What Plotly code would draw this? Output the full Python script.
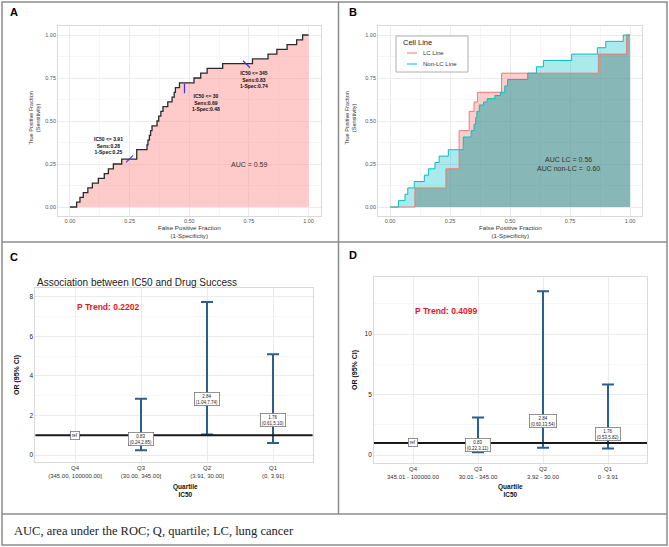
import numpy as np
import plotly.graph_objects as go

W, H = 669, 547
FONT = "Liberation Sans, Arial, sans-serif"

# ---- panel A: ROC of IC50 for all cell lines
roc_fpr = [0, 0.028, 0.042, 0.056, 0.075, 0.094, 0.119, 0.144, 0.161, 0.182,
           0.217, 0.280, 0.323, 0.327, 0.333, 0.338, 0.344, 0.365, 0.372, 0.381,
           0.390, 0.410, 0.428, 0.437, 0.442, 0.459, 0.520, 0.548, 0.575, 0.640,
           0.765, 0.830, 0.867, 0.910, 0.950, 0.975, 1.0]
roc_tpr = [0, 0.028, 0.056, 0.083, 0.111, 0.139, 0.167, 0.194, 0.222, 0.250,
           0.278, 0.333, 0.361, 0.389, 0.417, 0.444, 0.472, 0.500, 0.528, 0.556,
           0.583, 0.611, 0.639, 0.667, 0.694, 0.722, 0.750, 0.778, 0.806, 0.833,
           0.861, 0.889, 0.917, 0.944, 0.972, 1.0, 1.0]
auc_all = 0.59
cut_ic50 = ["3.91", "30", "345"]
cut_sens = [0.28, 0.69, 0.83]
cut_spec1 = [0.25, 0.48, 0.74]

# ---- panel B: ROC by cell line
lc_fpr = [0, 0.104, 0.233, 0.288, 0.330, 0.350, 0.365, 0.465, 0.868, 0.986, 1.0]
lc_tpr = [0, 0.111, 0.222, 0.444, 0.556, 0.611, 0.667, 0.778, 0.889, 1.0, 1.0]
nlc_fpr = [0, 0.035, 0.0625, 0.074, 0.101, 0.143, 0.160, 0.1875, 0.205, 0.243,
           0.305, 0.338, 0.350, 0.357, 0.362, 0.372, 0.390, 0.405, 0.437, 0.460,
           0.478, 0.490, 0.574, 0.610, 0.639, 0.757, 0.864, 0.899, 0.972, 1.0]
nlc_tpr = [0, 0.037, 0.074, 0.111, 0.148, 0.185, 0.222, 0.259, 0.296, 0.333,
           0.407, 0.444, 0.481, 0.519, 0.556, 0.593, 0.611, 0.630, 0.648, 0.667,
           0.704, 0.741, 0.778, 0.815, 0.852, 0.889, 0.926, 0.963, 1.0, 1.0]
auc_lc = 0.56
auc_nlc = 0.60
cell_lines = ["LC Line", "Non-LC Line"]
line_cols = ["#F8766D", "#00BFC4"]

# ---- panels C and D: odds ratios by IC50 quartile
quartiles = ["Q4", "Q3", "Q2", "Q1"]
ranges_c = ["(345.00, 100000.00]", "(30.00, 345.00]", "(3.91, 30.00]", "(0, 3.91]"]
or_c = [1.00, 0.83, 2.84, 1.76]
lo_c = [1.00, 0.24, 1.04, 0.61]
hi_c = [1.00, 2.85, 7.74, 5.10]
p_trend_c = "0.2202"
ranges_d = ["345.01 - 100000.00", "30.01 - 345.00", "3.92 - 30.00", "0 - 3.91"]
or_d = [1.00, 0.83, 2.84, 1.76]
lo_d = [1.00, 0.22, 0.60, 0.53]
hi_d = [1.00, 3.11, 13.54, 5.82]
p_trend_d = "0.4099"
ref_or = 1

caption = "AUC, area under the ROC; Q, quartile; LC, lung cancer"


def fx(p):
    return p / W


def fy(p):
    return 1 - p / H


def step_eval(xs, ys, grid):
    idx = np.searchsorted(xs, grid, side="right") - 1
    return np.asarray(ys)[idx]


fig = go.Figure()

# A
fig.add_trace(go.Scatter(x=roc_fpr, y=roc_tpr, mode="lines", line_shape="hv",
                         line=dict(color="#2b2b2b", width=1.3), fill="tozeroy",
                         fillcolor="rgba(255,150,150,0.5)", showlegend=False,
                         xaxis="x", yaxis="y"))
fig.add_trace(go.Scatter(x=cut_spec1, y=cut_sens, mode="markers",
                         marker=dict(symbol=["line-ne", "line-ns", "line-nw"], size=7,
                                     line=dict(color="#3a3ad0", width=1.2)),
                         showlegend=False, xaxis="x", yaxis="y"))

# B
grid = np.union1d(lc_fpr, nlc_fpr)
overlap = np.minimum(step_eval(lc_fpr, lc_tpr, grid), step_eval(nlc_fpr, nlc_tpr, grid))
fig.add_trace(go.Scatter(x=lc_fpr, y=lc_tpr, mode="none", line_shape="hv", fill="tozeroy",
                         fillcolor="rgba(248,118,109,0.35)", showlegend=False,
                         xaxis="x2", yaxis="y2"))
fig.add_trace(go.Scatter(x=nlc_fpr, y=nlc_tpr, mode="none", line_shape="hv", fill="tozeroy",
                         fillcolor="rgba(0,191,196,0.33)", showlegend=False,
                         xaxis="x2", yaxis="y2"))
fig.add_trace(go.Scatter(x=grid, y=overlap, mode="none", line_shape="hv", fill="tozeroy",
                         fillcolor="rgba(20,120,120,0.22)", showlegend=False,
                         xaxis="x2", yaxis="y2"))
for xs, ys, col in [(lc_fpr, lc_tpr, line_cols[0]), (nlc_fpr, nlc_tpr, line_cols[1])]:
    fig.add_trace(go.Scatter(x=xs, y=ys, mode="lines", line_shape="hv", showlegend=False,
                             line=dict(color=col, width=1), xaxis="x2", yaxis="y2"))

# C and D
bar_col = "#2c5f8e"
for n, rng, ors, los, his in [(3, ranges_c, or_c, lo_c, hi_c), (4, ranges_d, or_d, lo_d, hi_d)]:
    cats = [f"{q}<br>{r}" for q, r in zip(quartiles, rng)]
    up = [None if i == 0 else h - o for i, (o, h) in enumerate(zip(ors, his))]
    dn = [None if i == 0 else o - l for i, (o, l) in enumerate(zip(ors, los))]
    fig.add_trace(go.Scatter(x=cats, y=ors, mode="markers", marker=dict(size=1, color=bar_col),
                             error_y=dict(type="data", symmetric=False, array=up, arrayminus=dn,
                                          color=bar_col, thickness=2, width=6),
                             showlegend=False, xaxis=f"x{n}", yaxis=f"y{n}"))
    fig.add_shape(type="line", xref=f"x{n} domain", x0=0, x1=1, yref=f"y{n}",
                  y0=ref_or, y1=ref_or, line=dict(color="#1a1a1a", width=2))
    for i, c in enumerate(cats):
        txt = "ref" if i == 0 else f"{ors[i]:.2f}<br>({los[i]:.2f},{his[i]:.2f})"
        fig.add_annotation(x=c, y=ors[i], xref=f"x{n}", yref=f"y{n}", text=txt, showarrow=False,
                           font=dict(size=4.5, color="#222", family=FONT), bgcolor="white",
                           bordercolor="#777", borderwidth=0.8, borderpad=1)

# axes
grid_major = "#EBEBEB"
grid_minor = "#F5F5F5"
border = "#DADADA"
tick_font = dict(size=5.5, color="#555", family=FONT)


def roc_axis(x0, x1):
    return dict(domain=[fx(x0), fx(x1)], range=[-0.05, 1.05], tickvals=[0, 0.25, 0.5, 0.75, 1],
                ticktext=["0.00", "0.25", "0.50", "0.75", "1.00"], tickfont=tick_font,
                showgrid=True, gridcolor=grid_major, gridwidth=0.8, zeroline=False,
                minor=dict(tickvals=[0.125, 0.375, 0.625, 0.875], showgrid=True,
                           gridcolor=grid_minor, gridwidth=0.6),
                showline=True, mirror=True, linecolor=border, linewidth=0.8, ticks="")


roc_y = dict(domain=[fy(215.6), fy(26.4)], range=[-0.05, 1.05], tickvals=[0, 0.25, 0.5, 0.75, 1],
             ticktext=["0.00", "0.25", "0.50", "0.75", "1.00"], tickfont=tick_font,
             showgrid=True, gridcolor=grid_major, gridwidth=0.8, zeroline=False,
             minor=dict(tickvals=[0.125, 0.375, 0.625, 0.875], showgrid=True,
                        gridcolor=grid_minor, gridwidth=0.6),
             showline=True, mirror=True, linecolor=border, linewidth=0.8, ticks="")

or_tick_font = dict(size=6, color="#333", family=FONT)


def or_x(x0, x1):
    return dict(domain=[fx(x0), fx(x1)], type="category", range=[-0.6, 3.6],
                tickfont=or_tick_font, showgrid=True, gridcolor=grid_major, gridwidth=0.8,
                showline=True, mirror=True, linecolor=border, linewidth=0.8, ticks="")


def or_y(y0, y1, rng, major, minor):
    return dict(domain=[fy(y1), fy(y0)], range=rng, dtick=major, tick0=0,
                tickfont=dict(size=6.5, color="#222", family=FONT),
                showgrid=True, gridcolor=grid_major, gridwidth=0.8, zeroline=False,
                minor=dict(dtick=minor, tick0=0, showgrid=True, gridcolor=grid_minor, gridwidth=0.6),
                showline=True, mirror=True, linecolor=border, linewidth=0.8, ticks="")


fig.update_layout(
    width=W, height=H, margin=dict(l=0, r=0, t=0, b=0),
    paper_bgcolor="white", plot_bgcolor="white",
    font=dict(family=FONT, color="#333"),
    showlegend=False,
    xaxis=dict(roc_axis(58, 320.5), anchor="y"),
    yaxis=dict(roc_y, anchor="x"),
    xaxis2=dict(roc_axis(378, 642), anchor="y2"),
    yaxis2=dict(roc_y, anchor="x2"),
    xaxis3=dict(or_x(35.4, 312.6), anchor="y3"),
    yaxis3=dict(or_y(288, 462, [-0.35, 8.45], 2, 1), anchor="x3"),
    xaxis4=dict(or_x(374, 647), anchor="y4"),
    yaxis4=dict(or_y(277, 463, [-0.66, 14.71], 5, 2.5), anchor="x4"),
)

# ROC text
offs = [(-0.09, 0.08), (0.09, -0.08), (0.03, -0.09)]
for ic, s, f, (dx, dy) in zip(cut_ic50, cut_sens, cut_spec1, offs):
    fig.add_annotation(x=f + dx, y=s + dy, xref="x", yref="y", showarrow=False,
                       text=f"<b>IC50 &lt;= {ic}<br>Sens:{s:.2f}<br>1-Spec:{f:.2f}</b>",
                       font=dict(size=5, color="#111", family=FONT))
fig.add_annotation(x=0.75, y=0.25, xref="x", yref="y", showarrow=False,
                   text=f"AUC = {auc_all:.2f}", font=dict(size=7, color="#333", family=FONT))
fig.add_annotation(x=0.745, y=0.248, xref="x2", yref="y2", showarrow=False,
                   text=f"AUC LC = {auc_lc:.2f}<br>AUC non-LC =  {auc_nlc:.2f}",
                   font=dict(size=7, color="#333", family=FONT))
fig.add_annotation(x=0.5, y=7.5, xref="x3", yref="y3", showarrow=False,
                   text=f"<b>P Trend: {p_trend_c}</b>", font=dict(size=8.5, color="#e31a1c", family=FONT))
fig.add_annotation(x=0.5, y=11.9, xref="x4", yref="y4", showarrow=False,
                   text=f"<b>P Trend: {p_trend_d}</b>", font=dict(size=8.5, color="#e31a1c", family=FONT))


# axis titles and panel text
def paper_text(x, y, text, size, color="#333", angle=0, xanchor="center", bold=False, family=FONT):
    if bold:
        text = "<b>" + text.replace("<br>", "</b><br><b>") + "</b>"
    fig.add_annotation(x=fx(x), y=fy(y), xref="paper", yref="paper", text=text, showarrow=False,
                       textangle=angle, xanchor=xanchor, yanchor="middle",
                       font=dict(size=size, color=color, family=family))


for cx in (189, 510):
    paper_text(cx, 232, "False Positive Fraction<br>(1-Specificity)", 6.2)
paper_text(34.5, 118, "True Positive Fraction<br>(Sensitivity)", 5.5, angle=-90)
paper_text(350.5, 118, "True Positive Fraction<br>(Sensitivity)", 5.5, angle=-90)
paper_text(185, 490, "Quartile<br>IC50", 6.5, color="#111", bold=True)
paper_text(510, 490, "Quartile<br>IC50", 6.5, color="#111", bold=True)
paper_text(17, 375, "OR (95% CI)", 7, color="#111", angle=-90, bold=True)
paper_text(355, 370, "OR (95% CI)", 7, color="#111", angle=-90, bold=True)
paper_text(35, 282, "Association between IC50 and Drug Success", 10, color="#222", xanchor="left")
for x, y, lab in [(8, 12, "A"), (347, 12, "B"), (8, 257, "C"), (347, 255, "D")]:
    paper_text(x, y, lab, 11, color="#000", xanchor="left", bold=True)
paper_text(12, 531, caption, 12.5, color="#222", xanchor="left",
           family="Liberation Serif, Times New Roman, serif")

# legend of panel B
fig.add_shape(type="rect", xref="paper", yref="paper", x0=fx(396), x1=fx(468), y0=fy(72), y1=fy(36),
              fillcolor="white", line=dict(color="#b0b0b0", width=1))
paper_text(401, 43, "Cell Line", 7.5, color="#222", xanchor="left")
for k, (name, col) in enumerate(zip(cell_lines, line_cols)):
    yy = 53 + 11 * k
    fig.add_shape(type="line", xref="paper", yref="paper", x0=fx(407), x1=fx(417), y0=fy(yy), y1=fy(yy),
                  line=dict(color=col, width=1))
    paper_text(421, yy, name, 6, color="#333", xanchor="left")

# figure frame
frame = dict(color="#8c8c8c", width=1.5)
fig.add_shape(type="rect", xref="paper", yref="paper", x0=fx(2), x1=fx(667), y0=fy(545), y1=fy(2),
              line=frame)
fig.add_shape(type="line", xref="paper", yref="paper", x0=fx(338.5), x1=fx(338.5), y0=fy(514),
              y1=fy(2), line=frame)
fig.add_shape(type="line", xref="paper", yref="paper", x0=fx(2), x1=fx(667), y0=fy(242), y1=fy(242),
              line=frame)
fig.add_shape(type="line", xref="paper", yref="paper", x0=fx(2), x1=fx(667), y0=fy(514), y1=fy(514),
              line=frame)

fig.write_html("out.html", config={"displayModeBar": False},
               post_script="document.body.style.margin='0';")
